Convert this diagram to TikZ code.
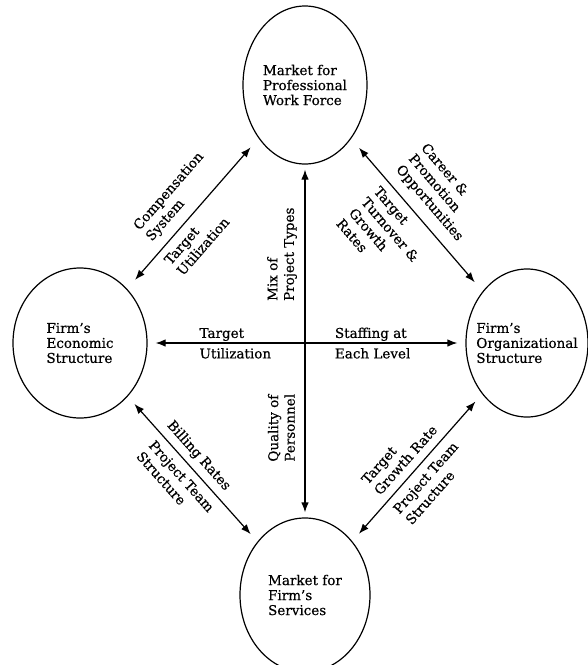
\documentclass[tikz,border=0pt]{standalone}
\usepackage{fontspec}
\setmainfont{DejaVu Serif}
\newfontfamily\heavyserif{DejaVu Serif}[FakeBold=0.5, Ligatures=TeX]
\usetikzlibrary{arrows.meta,shapes.geometric}

\begin{document}
\begin{tikzpicture}[x=1pt,y=-1pt,
  txt/.style={font=\heavyserif\fontsize{13.5}{15}\selectfont},
  lbl/.style={font=\heavyserif\fontsize{13.5}{16.5}\selectfont},
  party/.style={draw, ellipse, line width=1.2pt, inner sep=0pt},
  partytext/.style={txt, align=left},
  link/.style={line width=1.2pt,
    {Latex[length=10pt,width=7.5pt]}-{Latex[length=10pt,width=7.5pt]},
    shorten <=#1, shorten >=#1},
  tag/.style={lbl, sloped, align=left, inner sep=2pt},
  flat/.style={lbl, inner sep=1.5pt}
]
\useasboundingbox (0,0) rectangle (588,665);
\clip (0,0) rectangle (588,665);

% the four parties
\node[party, minimum width=124pt, minimum height=158pt,
  label={[partytext]center:Market for\\Professional\\Work Force}] (pro) at (305,85) {};
\node[party, minimum width=134pt, minimum height=150pt,
  label={[partytext]center:Firm's\\Economic\\Structure}] (econ) at (80,343) {};
\node[party, minimum width=122pt, minimum height=148pt,
  label={[partytext]center:Firm's\\Organizational\\Structure}] (org) at (527,343) {};
\node[party, minimum width=130pt, minimum height=154pt,
  label={[partytext]center:Market for\\Firm's\\Services}] (svc) at (305,595) {};

% horizontal link
\draw[link=8pt] (econ) -- (org)
  node[flat, pos=0.157, anchor=south west] {Target}
  node[flat, pos=0.157, anchor=north west, yshift=-3pt] {Utilization}
  node[flat, pos=0.583, anchor=south west] {Staffing at}
  node[flat, pos=0.583, anchor=north west, yshift=-3pt] {Each Level};

% vertical link
\draw[link=5pt] (svc) -- (pro)
  node[tag, pos=0.746, above=5.5pt] {Mix of\\Project Types}
  node[tag, pos=0.254, above=7.5pt] {Quality of\\Personnel};

% diagonal links
\draw[link=12pt] (econ) -- (pro)
  node[tag, pos=0.505, above=6.8pt] {Compensation\\System}
  node[tag, pos=0.41, below=5pt] {Target\\Utilization};

\draw[link=12pt] (pro) -- (org)
  node[tag, pos=0.496, above=8pt] {Career \&\\Promotion\\Opportunities}
  node[tag, pos=0.468, below=5.5pt] {Target\\Turnover \&\\Growth\\Rates};

\draw[link=10pt] (econ) -- (svc)
  node[tag, pos=0.47, above=4pt] {Billing Rates}
  node[tag, pos=0.49, below=5.2pt] {Project Team\\Structure};

\draw[link=10pt] (svc) -- (org)
  node[tag, pos=0.49, above=6.2pt] {Target\\Growth Rate}
  node[tag, pos=0.49, below=5.2pt] {Project Team\\Structure};
\end{tikzpicture}
\end{document}
